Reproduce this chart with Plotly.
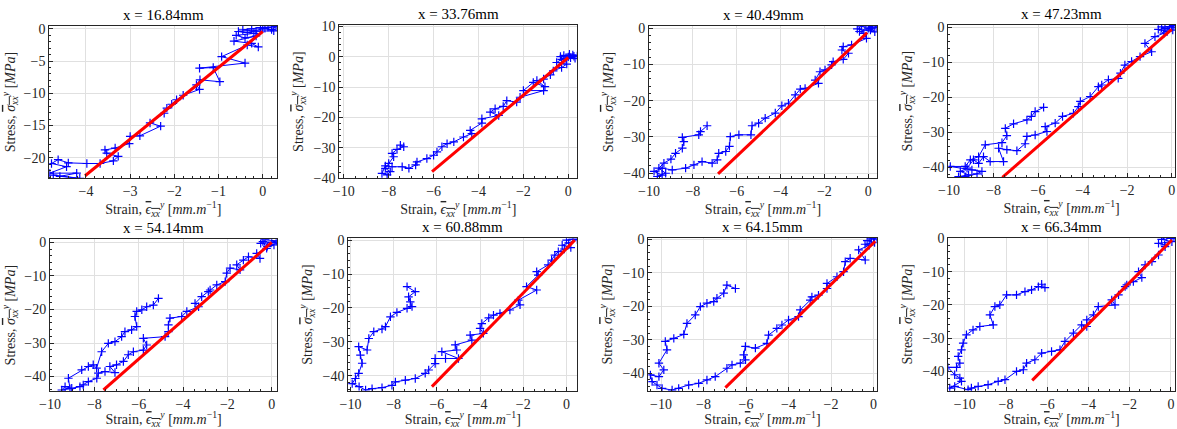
import plotly.graph_objects as go

# ---------------- data ----------------
titles = ["x = 16.84mm", "x = 33.76mm", "x = 40.49mm", "x = 47.23mm",
          "x = 54.14mm", "x = 60.88mm", "x = 64.15mm", "x = 66.34mm"]

strain_1 = [0.0, 0.12, 0.3, 0.2, -0.05, -0.25, -0.45, -0.15, 0.25, 0.05, -0.35, -0.55, -0.2, -0.6, -0.4,
            -0.15, -0.65, -0.25, -0.1, -0.35, -0.93, -0.4, -1.43, -1.12, -0.97, -1.42, -1.5, -1.43, -1.8,
            -1.95, -2.06, -2.17, -2.23, -2.55, -2.31, -2.78, -3.0, -3.02, -3.34, -3.57, -3.53, -3.27, -3.38,
            -3.68, -3.98, -4.4, -4.63, -4.78, -4.44, -4.82, -4.21, -4.59, -4.14, -4.74]
stress_1 = [0.0, 0.25, 0.35, -0.1, 0.2, 0.0, -0.15, -0.35, -0.3, 0.1, -0.55, -0.4, -0.7, -1.0, -1.4,
            -1.1, -1.9, -2.25, -2.8, -2.5, -4.3, -5.3, -6.1, -6.0, -8.2, -7.9, -8.7, -9.4, -10.3,
            -11.0, -11.7, -12.3, -13.1, -14.6, -15.1, -16.6, -16.7, -17.8, -18.5, -18.8, -19.3, -19.8, -20.5,
            -20.9, -20.9, -20.8, -20.3, -20.9, -21.4, -22.4, -22.4, -22.9, -23.2, -22.7]

strain_2 = [0.0, 0.2, 0.4, 0.1, -0.2, -0.35, 0.3, 0.05, -0.1, 0.25, -0.3, -0.52, -0.07, -0.3, -0.67,
            -0.8, -1.1, -1.4, -1.04, -1.56, -2.0, -1.1, -2.15, -2.3, -2.74, -2.9, -3.26, -3.48, -3.1,
            -3.85, -3.85, -4.37, -4.3, -4.67, -5.1, -5.4, -5.63, -5.85, -6.0, -6.3, -6.74, -6.8, -7.1,
            -7.4, -7.85, -8.15, -8.3, -8.07, -7.93, -8.15, -8.0, -7.78, -7.85, -7.63, -7.33, -7.48]
stress_2 = [0.0, 0.6, 0.3, -0.3, 0.5, 0.1, -0.5, 0.9, -0.6, 0.2, -0.8, -1.85, -2.4, -3.5, -4.6,
            -5.9, -7.3, -7.8, -9.8, -8.4, -11.1, -11.1, -13.3, -14.9, -14.4, -16.3, -17.1, -18.2, -19.3,
            -20.4, -21.8, -24.2, -25.3, -26.4, -28.0, -28.6, -29.6, -31.3, -32.4, -33.5, -34.6, -35.6, -36.7,
            -36.2, -36.2, -35.9, -38.4, -38.9, -37.8, -36.7, -35.1, -32.9, -31.8, -30.5, -29.6, -29.1]

strain_3 = [0.0, 0.2, 0.4, 0.1, -0.3, -0.5, 0.3, -0.1, 0.15, -0.4, -0.2, -0.08, -0.76, -1.14, -1.2,
            -0.9, -1.14, -1.6, -1.67, -1.97, -2.2, -2.42, -2.27, -2.88, -3.1, -3.33, -3.64, -3.94, -4.24,
            -4.7, -5.0, -5.3, -5.35, -5.9, -6.29, -6.33, -6.5, -6.82, -6.89, -7.12, -7.58, -7.95, -8.33,
            -8.94, -9.4, -9.77, -9.4, -9.62, -9.24, -9.55, -9.32, -9.0, -8.79, -8.48, -8.41, -8.48, -7.73,
            -7.65, -7.35]
stress_3 = [0.0, 0.8, 0.3, -0.5, 0.6, -0.2, -1.0, 1.1, 0.1, -0.9, -1.4, -2.8, -4.6, -5.1, -6.0,
            -6.9, -8.6, -9.2, -10.1, -11.5, -12.0, -14.3, -15.2, -16.6, -16.8, -18.4, -20.7, -21.4, -23.4,
            -24.8, -26.2, -26.9, -29.4, -29.4, -29.9, -32.6, -34.0, -34.5, -36.3, -37.2, -36.8, -37.7, -38.6,
            -39.1, -38.6, -39.5, -40.5, -40.9, -40.0, -38.6, -37.2, -36.1, -34.5, -33.1, -31.3, -30.1, -29.4,
            -28.5, -26.9]

strain_4 = [0.0, 0.1, -0.1, -0.3, 0.05, -0.45, -0.2, -0.6, -0.35, -0.75, -1.2, -0.9, -1.42, -1.8,
            -2.1, -2.3, -2.4, -2.84, -3.14, -3.29, -3.66, -4.1, -4.19, -4.41, -4.9, -5.23, -5.68, -5.6,
            -6.13, -6.5, -6.58, -6.95, -7.4, -7.77, -7.55, -8.15, -8.45, -8.67, -8.9, -9.19, -9.49, -9.12,
            -9.57, -9.27, -8.74, -8.52, -8.97, -9.94, -9.27, -9.04, -8.67, -8.37, -7.62, -7.4, -7.47, -7.1,
            -6.5, -6.3, -6.13, -5.75]
stress_4 = [0.0, 0.5, 0.2, -0.4, -0.8, 0.1, -1.2, -0.6, -1.7, -2.7, -4.6, -7.0, -8.4, -9.8,
            -10.8, -13.1, -14.6, -15.0, -16.5, -17.0, -19.8, -21.2, -22.7, -24.6, -25.5, -27.4, -28.4, -29.8,
            -30.8, -31.2, -33.3, -35.3, -35.0, -34.6, -38.4, -38.4, -37.0, -38.9, -37.9, -40.3, -41.2, -42.2,
            -42.7, -42.7, -41.9, -41.2, -40.8, -39.8, -39.8, -37.9, -37.0, -33.6, -33.0, -31.0, -28.9, -27.6,
            -26.5, -25.5, -24.1, -22.9]

strain_5 = [0.0, 0.2, -0.3, -0.5, 0.1, -0.2, 0.3, -0.4, -0.23, -0.68, -0.53, -1.05, -1.28, -1.58,
            -1.43, -1.88, -2.03, -2.1, -2.48, -2.78, -2.86, -3.16, -3.46, -3.3, -3.83, -4.06, -4.59, -4.66,
            -4.66, -4.81, -5.79, -5.64, -5.79, -6.24, -6.47, -6.69, -7.0, -7.3, -7.07, -7.52, -7.82, -7.89,
            -8.27, -8.5, -8.65, -9.02, -9.32, -9.47, -9.1, -9.17, -8.57, -8.27, -8.05, -7.9, -7.67, -7.37,
            -7.07, -6.77, -6.62, -6.32, -6.09, -6.17, -6.09, -5.86, -5.64, -5.34, -5.11]
stress_5 = [0.0, 0.4, 0.8, -0.3, -0.8, -1.2, -0.2, 0.2, -1.8, -3.3, -4.8, -4.3, -5.3, -6.7,
            -8.2, -7.7, -9.2, -11.7, -12.7, -14.2, -14.7, -16.2, -18.2, -19.2, -20.6, -22.1, -22.6, -24.6,
            -26.6, -28.1, -28.6, -30.6, -32.1, -32.6, -33.5, -35.5, -36.5, -37.0, -38.8, -38.5, -39.0, -40.5,
            -41.5, -42.5, -43.0, -43.5, -43.0, -44.0, -43.6, -40.5, -38.0, -37.0, -36.5, -37.5, -32.6, -30.1,
            -29.6, -28.1, -26.6, -26.1, -25.1, -22.1, -20.6, -20.1, -19.2, -18.7, -16.7]

strain_6 = [0.0, 0.3, 0.5, 0.1, -0.2, 0.2, -0.1, -0.38, -0.54, -0.69, -0.85, -1.38, -1.31, -1.85,
            -1.38, -2.23, -2.15, -2.62, -3.08, -3.38, -3.6, -3.92, -4.0, -3.85, -4.46, -4.38, -5.15, -5.08,
            -5.77, -5.0, -5.6, -6.08, -6.08, -6.38, -6.54, -7.0, -7.46, -7.92, -8.08, -8.54, -9.0, -9.3,
            -9.6, -9.92, -9.77, -9.62, -9.46, -9.54, -9.62, -9.23, -9.15, -8.92, -8.54, -8.38, -8.15, -7.85,
            -7.38, -7.15, -7.23, -7.31, -7.0, -7.38]
stress_6 = [0.0, 0.3, 0.2, -0.8, -1.5, -2.2, -2.6, -3.4, -4.4, -5.9, -7.3, -9.3, -10.3, -13.7,
            -14.7, -17.7, -19.1, -20.6, -21.6, -22.1, -22.9, -24.6, -26.0, -27.5, -28.0, -29.5, -30.9, -32.4,
            -32.9, -34.9, -34.9, -34.9, -36.4, -38.3, -39.3, -40.8, -41.3, -41.8, -42.8, -43.5, -43.8, -44.2,
            -43.2, -42.3, -40.8, -39.3, -36.3, -33.9, -31.4, -32.4, -29.0, -27.0, -26.2, -25.5, -22.6, -21.3,
            -20.1, -19.6, -18.2, -16.7, -15.2, -13.7]

strain_7 = [0.0, 0.15, -0.1, -0.3, 0.05, -0.4, -0.2, -0.7, -0.39, -1.1, -1.33, -1.41, -1.72, -2.19,
            -2.19, -2.59, -2.9, -2.98, -3.45, -3.53, -4.0, -4.31, -4.55, -4.94, -5.02, -5.56, -6.03, -6.11,
            -6.03, -6.27, -6.66, -6.9, -7.45, -7.84, -8.23, -8.7, -9.17, -9.48, -9.95, -10.19, -10.42, -10.5,
            -10.1, -9.87, -10.1, -9.72, -9.8, -9.4, -8.93, -8.78, -8.39, -8.15, -7.84, -7.52, -7.37, -7.05,
            -6.9, -6.5]
stress_7 = [0.0, 0.5, 0.3, -0.4, -1.0, -1.5, -1.8, -3.2, -6.2, -5.7, -6.7, -9.7, -11.2, -13.2,
            -14.7, -16.7, -17.2, -18.2, -21.1, -23.1, -24.1, -25.6, -26.6, -28.6, -31.1, -32.5, -32.0, -34.5,
            -36.0, -37.0, -37.5, -38.5, -41.0, -42.0, -43.0, -43.5, -44.5, -45.0, -44.5, -43.5, -42.5, -40.5,
            -41.0, -39.0, -37.0, -33.0, -30.5, -29.6, -28.4, -25.1, -22.6, -20.1, -19.1, -18.6, -17.6, -16.1,
            -13.7, -14.7]

strain_8 = [0.0, 0.15, -0.2, -0.45, 0.05, -0.6, -0.3, -0.28, -0.6, -0.92, -1.25, -1.57, -1.41, -1.82,
            -2.14, -2.22, -2.54, -2.87, -2.71, -3.52, -3.76, -4.08, -4.08, -4.33, -4.73, -5.14, -5.38, -5.79,
            -6.27, -6.6, -7.0, -7.16, -7.49, -8.05, -8.38, -8.87, -9.35, -9.68, -9.84, -10.49, -10.73, -10.16,
            -10.24, -10.49, -10.81, -10.4, -10.24, -10.32, -10.16, -10.08, -9.92, -9.6, -9.27, -8.62, -8.78,
            -8.54, -8.3, -7.97, -7.49, -7.08, -6.76, -6.43, -6.11, -6.27]
stress_8 = [0.0, 0.3, 0.4, -0.3, -1.0, -1.5, -2.0, -2.5, -5.0, -7.0, -8.0, -10.0, -11.8, -13.0,
            -14.0, -14.5, -17.0, -18.5, -20.0, -20.5, -23.0, -24.5, -26.5, -26.0, -28.5, -31.0, -33.5, -34.0,
            -34.5, -36.5, -37.5, -39.5, -40.0, -42.5, -43.0, -44.0, -44.5, -45.0, -45.5, -44.5, -45.0, -43.0,
            -42.0, -41.0, -38.8, -38.8, -37.5, -35.5, -33.5, -31.5, -29.0, -27.5, -26.5, -26.0, -23.0,
            -20.5, -20.0, -17.0, -17.0, -16.0, -15.5, -14.5, -14.8, -13.8]

# linear fits (red): end points of the fitted line
fit_strain = [[-4.02, 0.0], [-6.07, 0.0], [-6.85, -0.05], [-7.6, 0.0],
              [-7.59, 0.0], [-6.23, 0.38], [-6.97, 0.08], [-6.73, 0.05]]
fit_stress = [[-22.8, -0.4], [-37.8, -0.2], [-40.2, -1.2], [-42.9, -0.6],
              [-44.0, 0.0], [-43.2, 0.0], [-44.3, -0.6], [-42.7, -0.5]]

strains = [strain_1, strain_2, strain_3, strain_4, strain_5, strain_6, strain_7, strain_8]
stresses = [stress_1, stress_2, stress_3, stress_4, stress_5, stress_6, stress_7, stress_8]

x_ranges = [[-4.83, 0.33], [-10.2, 0.4], [-10.0, 0.4], [-10.03, 0.15],
            [-10.0, 0.25], [-10.1, 0.5], [-10.6, 0.15], [-10.8, 0.2]]
y_ranges = [[-23.2, 0.5], [-40.0, 10.5], [-41.4, 0.7], [-42.9, 0.65],
            [-44.3, 0.9], [-44.4, 0.55], [-45.2, 0.45], [-45.8, 0.2]]
x_dticks = [1, 2, 2, 2, 2, 2, 2, 2]
y_dticks = [5, 10, 10, 10, 10, 10, 10, 10]

# ---------------- layout (pixel boxes of each axes) ----------------
W, H = 1177, 429
boxes = [(49.3, 277.3, 25.7, 178.3), (339.3, 577.3, 25.0, 178.3),
         (649.0, 877.0, 25.7, 178.3), (948.3, 1175.0, 25.0, 177.3),
         (50.0, 277.3, 239.3, 391.0), (348.3, 577.3, 238.3, 390.7),
         (648.3, 876.7, 237.7, 390.7), (948.3, 1175.0, 237.7, 390.7)]

FONT = "Liberation Serif, Times New Roman, serif"
AX = "#262626"
xlab = ("Strain, <span style='text-decoration:overline'><i>ϵ<sub>xx</sub></i></span>"
        "<sup><i>y</i></sup> [<i>mm.m</i><sup>−1</sup>]")
ylab = ("Stress, <span style='text-decoration:overline'><i>σ<sub>xx</sub></i></span>"
        "<sup><i>y</i></sup> [<i>MPa</i>]")

fig = go.Figure()
annotations = []
for i in range(8):
    n = i + 1
    xa = "x" if n == 1 else f"x{n}"
    ya = "y" if n == 1 else f"y{n}"
    fig.add_trace(go.Scatter(
        x=strains[i], y=stresses[i], xaxis=xa, yaxis=ya, mode="lines+markers",
        line=dict(color="#0000ff", width=1),
        marker=dict(symbol="cross-thin", size=6, line=dict(color="#0000ff", width=1.2)),
        showlegend=False, cliponaxis=True))
    fig.add_trace(go.Scatter(
        x=fit_strain[i], y=fit_stress[i], xaxis=xa, yaxis=ya, mode="lines",
        line=dict(color="#ff0000", width=3), showlegend=False))
    x0, x1, y0, y1 = boxes[i]
    common = dict(showline=True, mirror=True, linecolor=AX, linewidth=1,
                  ticks="inside", ticklen=4, tickcolor=AX, tickwidth=1,
                  showgrid=True, gridcolor="#e0e0e0", gridwidth=1, zeroline=False,
                  automargin=False,
                  tickfont=dict(family=FONT, size=14, color=AX),
                  minor=dict(ticks="inside", ticklen=2, tickcolor=AX, showgrid=False))
    fig.layout[("xaxis" if n == 1 else f"xaxis{n}")] = dict(
        common, domain=[x0 / W, x1 / W], anchor=ya, range=x_ranges[i],
        dtick=x_dticks[i], tick0=0,
        title=dict(text=xlab, font=dict(family=FONT, size=14, color=AX), standoff=0))
    fig.layout[("yaxis" if n == 1 else f"yaxis{n}")] = dict(
        common, domain=[1 - y1 / H, 1 - y0 / H], anchor=xa, range=y_ranges[i],
        dtick=y_dticks[i], tick0=0,
        title=dict(text=ylab, font=dict(family=FONT, size=14, color=AX), standoff=6))
    annotations.append(dict(text=titles[i], xref="paper", yref="paper",
                            x=(x0 + x1) / 2 / W, y=1 - (y0 - 11) / H, showarrow=False,
                            xanchor="center", yanchor="middle",
                            font=dict(family=FONT, size=15, color="#000000")))

fig.update_layout(width=W, height=H, margin=dict(l=0, r=0, t=0, b=0, autoexpand=False),
                  paper_bgcolor="white", plot_bgcolor="white",
                  annotations=annotations)
fig.write_html("out.html", config={"displayModeBar": False},
               post_script="document.body.style.margin='0';document.body.style.overflow='hidden';")
